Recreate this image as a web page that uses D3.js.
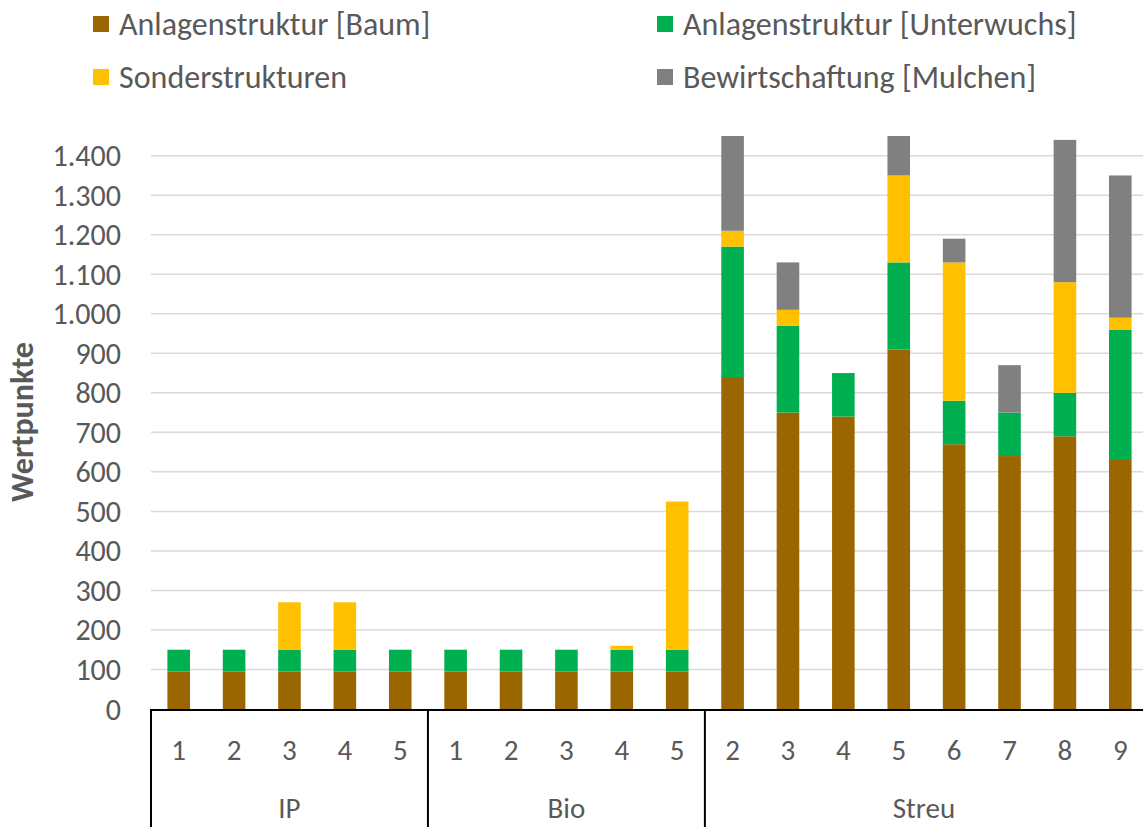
<!DOCTYPE html>
<html>
<head>
<meta charset="utf-8">
<script src="https://cdn.jsdelivr.net/npm/d3@7/dist/d3.min.js"></script>
<style>
  html, body { margin: 0; padding: 0; background: #fff; }
  svg { display: block; }
  text { font-family: Carlito, Lato, "Open Sans", sans-serif; fill: #595959; }
</style>
</head>
<body>
<svg id="chart" width="1143" height="827"></svg>
<script>
// ---- data ----
const groups = ["IP", "Bio", "Streu"];
const groupMembers = [
  ["1", "2", "3", "4", "5"],
  ["1", "2", "3", "4", "5"],
  ["2", "3", "4", "5", "6", "7", "8", "9"]
];
const seriesNames = ["Anlagenstruktur [Baum]", "Anlagenstruktur [Unterwuchs]", "Sonderstrukturen", "Bewirtschaftung [Mulchen]"];
const seriesColors = ["#996600", "#00B050", "#FFC000", "#808080"];
//                 IP1 IP2 IP3 IP4 IP5  B1  B2  B3  B4  B5   S2   S3   S4   S5   S6   S7   S8   S9
const baum     = [ 95, 95, 95, 95, 95, 95, 95, 95, 95, 95, 840, 750, 740, 910, 670, 640, 690, 630];
const unterwu  = [ 55, 55, 55, 55, 55, 55, 55, 55, 55, 55, 330, 220, 110, 220, 110, 110, 110, 330];
const sonder   = [  0,  0,120,120,  0,  0,  0,  0, 10,375,  40,  40,   0, 220, 350,   0, 280,  30];
const mulchen  = [  0,  0,  0,  0,  0,  0,  0,  0,  0,  0, 270, 120,   0, 120,  60, 120, 360, 360];
const yTickValues = [0,100,200,300,400,500,600,700,800,900,1000,1100,1200,1300,1400];
const yMax = 1450;
const yTitle = "Wertpunkte";

// ---- build table ----
const cats = [];
groupMembers.forEach((m, gi) => m.forEach(lbl => cats.push({ id: gi + "-" + lbl, label: lbl, group: gi })));
const seriesVals = [baum, unterwu, sonder, mulchen];
const table = cats.map((c, i) => {
  const row = { id: c.id };
  seriesNames.forEach((s, si) => row[s] = seriesVals[si][i]);
  return row;
});
const stacked = d3.stack().keys(seriesNames)(table);

// ---- layout ----
const svg = d3.select("#chart");
const plotLeft = 151, plotRight = 1148, plotBottom = 709;

const x = d3.scaleBand().domain(cats.map(c => c.id)).range([plotLeft, plotRight])
  .paddingInner(0.592).paddingOuter(0.296);
const y = d3.scaleLinear().domain([0, yMax]).range([plotBottom, plotBottom - yMax * (553.3 / 1400)]);

const de = d3.formatLocale({ decimal: ",", thousands: ".", grouping: [3], currency: ["", "€"] });
const fmt = de.format(",d");

// gridlines
svg.append("g").selectAll("line").data(yTickValues.filter(v => v > 0)).join("line")
  .attr("x1", plotLeft).attr("x2", 1143)
  .attr("y1", d => y(d)).attr("y2", d => y(d))
  .attr("stroke", "#d9d9d9").attr("stroke-width", 1.5);

// y tick labels
svg.append("g").selectAll("text").data(yTickValues).join("text")
  .attr("x", 121).attr("y", d => y(d))
  .attr("dy", "0.35em")
  .attr("text-anchor", "end")
  .style("font-size", "30px")
  .text(d => fmt(d));

// y title
svg.append("text")
  .attr("transform", `translate(33, ${422}) rotate(-90)`)
  .attr("text-anchor", "middle")
  .style("font-size", "32px").style("font-weight", "bold")
  .text(yTitle);

// bars
svg.append("defs").append("clipPath").attr("id", "plotclip")
  .append("rect").attr("x", plotLeft).attr("y", y(yMax)).attr("width", plotRight - plotLeft).attr("height", plotBottom - y(yMax));

const barG = svg.append("g").attr("clip-path", "url(#plotclip)");
stacked.forEach((layer, li) => {
  barG.append("g").attr("fill", seriesColors[li]).selectAll("rect")
    .data(layer.filter(d => d[1] - d[0] > 0)).join("rect")
    .attr("x", d => x(d.data.id))
    .attr("width", x.bandwidth())
    .attr("y", d => y(d[1]))
    .attr("height", d => y(d[0]) - y(d[1]));
});

// x axis line
svg.append("line").attr("x1", plotLeft).attr("x2", 1143)
  .attr("y1", plotBottom + 1).attr("y2", plotBottom + 1)
  .attr("stroke", "#000").attr("stroke-width", 2);

// category labels
svg.append("g").selectAll("text").data(cats).join("text")
  .attr("x", d => x(d.id) + x.bandwidth() / 2)
  .attr("y", 760)
  .attr("text-anchor", "middle")
  .style("font-size", "29px")
  .text(d => d.label);

// group separators and labels
let idx = 0;
const groupInfo = groupMembers.map((m, gi) => {
  const first = cats[idx].id, last = cats[idx + m.length - 1].id;
  idx += m.length;
  return { name: groups[gi], start: x(first) - x.step() * x.paddingInner() / 2, end: x(last) + x.bandwidth() + x.step() * x.paddingInner() / 2 };
});
svg.append("g").selectAll("line").data(groupInfo).join("line")
  .attr("x1", d => d.start).attr("x2", d => d.start)
  .attr("y1", plotBottom).attr("y2", 827)
  .attr("stroke", "#000").attr("stroke-width", 2);
svg.append("g").selectAll("text").data(groupInfo).join("text")
  .attr("x", d => (d.start + Math.min(d.end, 1143)) / 2)
  .attr("y", 818)
  .attr("text-anchor", "middle")
  .style("font-size", "29px")
  .text(d => d.name);

// legend
const legPos = [[93, 24], [657, 24], [93, 77], [657, 77]];
const leg = svg.append("g").selectAll("g").data(seriesNames).join("g")
  .attr("transform", (d, i) => `translate(${legPos[i][0]},${legPos[i][1]})`);
leg.append("rect").attr("x", 0).attr("y", -8).attr("width", 16).attr("height", 16)
  .attr("fill", (d, i) => seriesColors[i]);
leg.append("text").attr("x", 26).attr("y", 0).attr("dy", "0.35em")
  .style("font-size", "32px")
  .text(d => d);
</script>
</body>
</html>
